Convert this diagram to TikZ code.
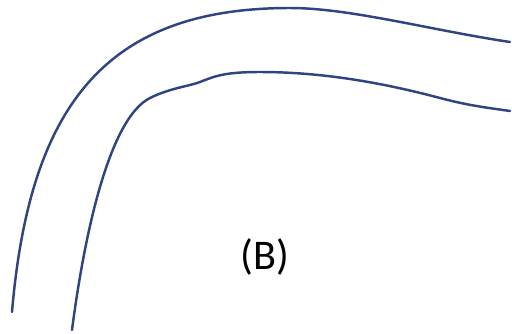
\documentclass[tikz,border=0pt]{standalone}
\usepackage{fontspec}
\setmainfont{Carlito}
\usetikzlibrary{positioning}
\definecolor{curveblue}{RGB}{47,68,129}

\begin{document}
\begin{tikzpicture}[x=0.01cm,y=-0.01cm,
  wall/.style={draw=curveblue,line width=0.7pt,line cap=round},
  tag/.style={font=\fontsize{12}{14}\selectfont,text=black,inner sep=0pt}]
\useasboundingbox (0,0) rectangle (512,333);
% outer wall
\draw[wall] (12,312) .. controls (30,100) and (110,8) .. (290,8)
  .. controls (350,8) and (430,30) .. (510,42);
% inner wall
\draw[wall] (72,330) .. controls (85,230) and (110,118) .. (150,98)
  .. controls (170,88) and (190,86) .. (200,82)
  .. controls (215,76) and (225,72) .. (260,72)
  .. controls (320,72) and (380,82) .. (440,98)
  .. controls (470,106) and (490,108) .. (510,111);
\node[tag](lab) at (265,257) {(B)};
\end{tikzpicture}
\end{document}
